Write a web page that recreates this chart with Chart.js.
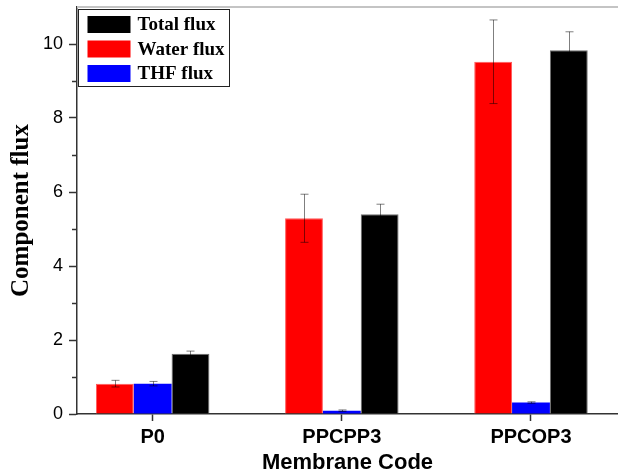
<!DOCTYPE html>
<html>
<head>
<meta charset="utf-8">
<script src="https://cdn.jsdelivr.net/npm/chart.js@4.4.1/dist/chart.umd.min.js"></script>
<style>
  html, body { margin: 0; padding: 0; background: #ffffff; }
  #wrap { width: 618px; height: 476px; }
</style>
</head>
<body>
<div id="wrap"><canvas id="c" width="618" height="476"></canvas></div>
<script>
// Membrane categories and measured component fluxes (mean and error)
const membranes = ['P0', 'PPCPP3', 'PPCOP3'];
const waterFlux = [0.82, 5.29, 9.52];
const waterErr  = [0.09, 0.65, 1.13];
const thfFlux   = [0.82, 0.09, 0.31];
const thfErr    = [0.06, 0.02, 0.02];
const totalFlux = [1.63, 5.40, 9.83];
const totalErr  = [0.07, 0.27, 0.50];
const yMajorTicks = [0, 2, 4, 6, 8, 10];
const yMinorTicks = [1, 3, 5, 7, 9];

const SANS = '"Liberation Sans", Arial, sans-serif';
const SERIF = '"Liberation Serif", "Times New Roman", serif';

function points(values) {
  return values.map((v, i) => ({ x: i, y: v }));
}

// Vertical error bars with short caps, drawn over each bar
const errorBars = {
  id: 'errorBars',
  afterDatasetsDraw(chart) {
    const ctx = chart.ctx;
    const y = chart.scales.y;
    ctx.save();
    ctx.strokeStyle = 'rgba(0,0,0,0.5)';
    ctx.lineWidth = 1;
    chart.data.datasets.forEach((ds, di) => {
      const meta = chart.getDatasetMeta(di);
      meta.data.forEach((bar, i) => {
        const v = ds.data[i].y, e = ds.errors[i];
        const x = Math.round(bar.x) + 0.5;
        const top = y.getPixelForValue(v + e);
        const bot = y.getPixelForValue(v - e);
        ctx.beginPath();
        ctx.moveTo(x, top); ctx.lineTo(x, bot);
        ctx.moveTo(x - 4, top); ctx.lineTo(x + 4, top);
        ctx.moveTo(x - 4, bot); ctx.lineTo(x + 4, bot);
        ctx.stroke();
      });
    });
    ctx.restore();
  }
};

// Top frame line and minor ticks on the value axis
const frame = {
  id: 'frame',
  afterDraw(chart) {
    const ctx = chart.ctx;
    const a = chart.chartArea;
    const y = chart.scales.y;
    ctx.save();
    ctx.strokeStyle = '#c4c4c4';
    ctx.lineWidth = 2;
    ctx.beginPath();
    ctx.moveTo(a.left, a.top); ctx.lineTo(a.right, a.top);
    ctx.stroke();
    ctx.strokeStyle = '#333333';
    ctx.lineWidth = 1.5;
    yMinorTicks.forEach(v => {
      const py = Math.round(y.getPixelForValue(v)) + 0.5;
      ctx.beginPath();
      ctx.moveTo(a.left - 5, py); ctx.lineTo(a.left, py);
      ctx.stroke();
    });
    ctx.restore();
  }
};

// Boxed legend in the upper-left corner of the plot
const boxLegend = {
  id: 'boxLegend',
  afterDraw(chart) {
    const ctx = chart.ctx;
    const a = chart.chartArea;
    const order = [2, 0, 1];
    const bx = a.left + 1.5, by = a.top + 2.5, bw = 151, bh = 77;
    ctx.save();
    ctx.fillStyle = '#ffffff';
    ctx.fillRect(bx, by, bw, bh);
    ctx.strokeStyle = '#222222';
    ctx.lineWidth = 1;
    ctx.strokeRect(bx, by, bw, bh);
    ctx.font = 'bold 19px ' + SERIF;
    ctx.textBaseline = 'middle';
    ctx.textAlign = 'left';
    order.forEach((di, k) => {
      const ds = chart.data.datasets[di];
      const cy = by + 15 + k * 24.5;
      ctx.fillStyle = ds.backgroundColor;
      ctx.fillRect(bx + 9, cy - 8.5, 43, 17);
      ctx.fillStyle = '#000000';
      ctx.fillText(ds.label, bx + 59, cy + 1);
    });
    ctx.restore();
  }
};

new Chart(document.getElementById('c'), {
  type: 'bar',
  data: {
    datasets: [
      { label: 'Water flux', data: points(waterFlux), errors: waterErr, backgroundColor: '#ff0000', borderColor: '#ff5a5a', borderWidth: 1 },
      { label: 'THF flux',   data: points(thfFlux),   errors: thfErr,   backgroundColor: '#0000ff', borderColor: '#0000ff', borderWidth: 0 },
      { label: 'Total flux', data: points(totalFlux), errors: totalErr, backgroundColor: '#000000', borderColor: '#6e6e6e', borderWidth: 1 }
    ]
  },
  options: {
    responsive: false,
    animation: false,
    devicePixelRatio: 1,
    layout: { padding: { top: 7, right: 0, bottom: 0, left: 0 } },
    datasets: { bar: { categoryPercentage: 0.6, barPercentage: 1.0 } },
    plugins: { legend: { display: false }, tooltip: { enabled: false } },
    scales: {
      x: {
        type: 'linear',
        min: -0.4,
        max: 2.46,
        offset: false,
        afterBuildTicks(s) { s.ticks = membranes.map((_, i) => ({ value: i })); },
        afterFit(s) { s.height = 62; s.paddingLeft = 0; s.paddingRight = 0; },
        ticks: {
          callback: v => membranes[v],
          color: '#000000',
          font: { family: SANS, size: 20, weight: 'bold' },
          padding: 4,
          maxRotation: 0,
          autoSkip: false
        },
        grid: { offset: false, drawOnChartArea: false, drawTicks: true, tickLength: 7, color: '#333333', tickWidth: 1.5 },
        border: { color: '#333333', width: 1.5 },
        title: {
          display: true,
          text: 'Membrane Code',
          color: '#000000',
          font: { family: SANS, size: 22, weight: 'bold' },
          padding: { top: 0, bottom: 0 }
        }
      },
      y: {
        min: 0,
        max: 11,
        afterBuildTicks(s) { s.ticks = yMajorTicks.map(v => ({ value: v })); },
        afterFit(s) { s.width = 77; s.paddingTop = 0; s.paddingBottom = 0; },
        ticks: {
          color: '#000000',
          font: { family: SANS, size: 18 },
          padding: 6
        },
        grid: { drawOnChartArea: false, drawTicks: true, tickLength: 8, color: '#333333', tickWidth: 1.5 },
        border: { color: '#333333', width: 1.5 },
        title: {
          display: true,
          text: 'Component flux',
          color: '#000000',
          font: { family: SERIF, size: 25, weight: 'bold' },
          padding: { top: 7, bottom: 0 }
        }
      }
    }
  },
  plugins: [errorBars, frame, boxLegend]
});
</script>
</body>
</html>
